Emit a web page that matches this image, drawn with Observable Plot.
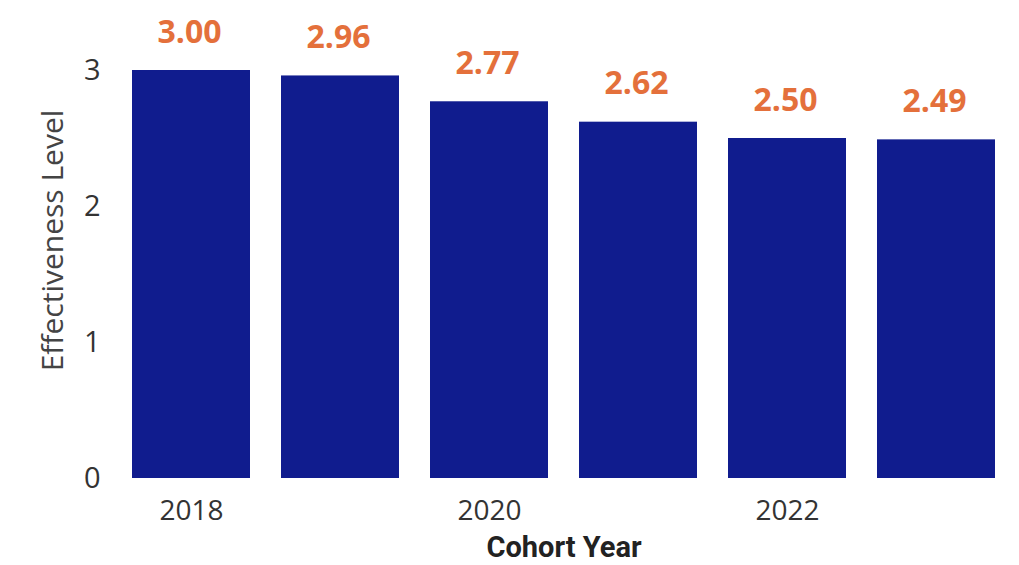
<!DOCTYPE html>
<html>
<head>
<meta charset="utf-8">
<script src="https://cdn.jsdelivr.net/npm/d3@7"></script>
<script src="https://cdn.jsdelivr.net/npm/@observablehq/plot@0.6"></script>
<style>
  html, body { margin: 0; padding: 0; background: #fff; }
  #chart svg { display: block; }
</style>
</head>
<body>
<div id="chart"></div>
<script>
const years = [2018, 2019, 2020, 2021, 2022, 2023];
const effectiveness = [3.00, 2.96, 2.77, 2.62, 2.50, 2.49];
const xTicks = [2018, 2020, 2022];
const yTicks = [0, 1, 2, 3];
const yLabel = "Effectiveness Level";
const xLabel = "Cohort Year";

const data = years.map((y, i) => ({year: y, value: effectiveness[i]}));

const font = "'Open Sans', 'Noto Sans', sans-serif";

const chart = Plot.plot({
  width: 1019,
  height: 565,
  marginLeft: 130,
  marginRight: 22,
  marginTop: 70,
  marginBottom: 87,
  style: {fontFamily: font, background: "#fff"},
  x: {type: "band", domain: years, paddingInner: 0.21, paddingOuter: 0},
  y: {domain: [0, 3]},
  marks: [
    Plot.barY(data, {x: "year", y: "value", fill: "#101c8e"}),
    Plot.text(data, {
      x: "year", y: "value", text: d => d.value.toFixed(2),
      dy: -38, dx: -2, fill: "#e4703b", fontWeight: "bold", fontSize: 32, fontFamily: font
    }),
    Plot.axisY({
      ticks: yTicks, tickFormat: "d", tickSize: 0, tickPadding: 30, fontSize: 29, color: "#333",
      label: null
    }),
    Plot.text([yLabel], {
      frameAnchor: "left", textAnchor: "middle", lineAnchor: "middle",
      text: d => d, rotate: -90, dx: -77, dy: -34,
      fontSize: 30, fill: "#444", fontFamily: font
    }),
    Plot.axisX({
      ticks: xTicks, tickFormat: "d", tickSize: 0, tickPadding: 22, fontSize: 28, color: "#333",
      label: null
    }),
    Plot.text([xLabel], {
      frameAnchor: "bottom", text: d => d, dy: 78,
      fontSize: 29, fontWeight: "bold", fill: "#222", fontFamily: "Roboto, sans-serif"
    })
  ]
});
document.getElementById("chart").append(chart);
</script>
</body>
</html>
